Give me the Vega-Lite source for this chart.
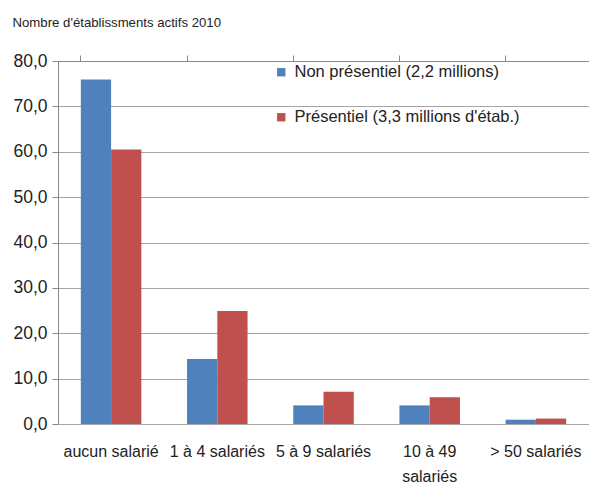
{
  "$schema": "https://vega.github.io/schema/vega-lite/v6.json",
  "width": 531,
  "height": 363,
  "autosize": {"type": "none"},
  "padding": {"left": 58, "top": 61, "right": 0, "bottom": 59},
  "background": "white",
  "config": {
    "view": {"stroke": null},
    "font": "Liberation Sans"
  },
  "data": {
    "values": [
      {"cat": "aucun salarié", "serie": "Non présentiel (2,2 millions)", "v": 75.9},
      {"cat": "aucun salarié", "serie": "Présentiel (3,3 millions d'étab.)", "v": 60.5},
      {"cat": "1 à 4 salariés", "serie": "Non présentiel (2,2 millions)", "v": 14.3},
      {"cat": "1 à 4 salariés", "serie": "Présentiel (3,3 millions d'étab.)", "v": 24.9},
      {"cat": "5 à 9 salariés", "serie": "Non présentiel (2,2 millions)", "v": 4.1},
      {"cat": "5 à 9 salariés", "serie": "Présentiel (3,3 millions d'étab.)", "v": 7.1},
      {"cat": "10 à 49 salariés", "serie": "Non présentiel (2,2 millions)", "v": 4.1},
      {"cat": "10 à 49 salariés", "serie": "Présentiel (3,3 millions d'étab.)", "v": 5.9},
      {"cat": "> 50 salariés", "serie": "Non présentiel (2,2 millions)", "v": 0.95},
      {"cat": "> 50 salariés", "serie": "Présentiel (3,3 millions d'étab.)", "v": 1.2}
    ]
  },
  "layer": [
    {
      "mark": {"type": "bar"},
      "encoding": {
        "x": {
          "field": "cat", "type": "nominal",
          "sort": ["aucun salarié", "1 à 4 salariés", "5 à 9 salariés", "10 à 49 salariés", "> 50 salariés"],
          "scale": {"paddingInner": 0.43, "paddingOuter": 0.215},
          "axis": {
            "title": null, "labelAngle": 0, "ticks": false, "domain": false,
            "labelFontSize": 16, "labelColor": "#222222", "labelPadding": 19,
            "labelExpr": "datum.label == '10 à 49 salariés' ? ['10 à 49', 'salariés'] : datum.label",
            "labelLineHeight": 25
          }
        },
        "xOffset": {
          "field": "serie", "type": "nominal",
          "sort": ["Non présentiel (2,2 millions)", "Présentiel (3,3 millions d'étab.)"],
          "scale": {"paddingInner": 0, "paddingOuter": 0}
        },
        "y": {
          "field": "v", "type": "quantitative",
          "scale": {"domain": [0, 80], "nice": false},
          "axis": {
            "title": "Nombre d'établissments actifs 2010",
            "titleAngle": 0, "titleAlign": "left", "titleBaseline": "alphabetic",
            "titleX": -46, "titleY": -35,
            "titleFont": "Liberation Sans", "titleFontSize": 13.2, "titleFontWeight": "normal",
            "titleColor": "#222222",
            "values": [0, 10, 20, 30, 40, 50, 60, 70, 80],
            "labelExpr": "replace(format(datum.value, '.1f'), '.', ',')",
            "labelFontSize": 17.5, "labelColor": "#222222", "labelPadding": 5,
            "tickSize": 6, "tickColor": "#888888", "domainColor": "#888888",
            "gridColor": "#A6A6A6", "grid": true
          }
        },
        "color": {
          "field": "serie", "type": "nominal",
          "sort": ["Non présentiel (2,2 millions)", "Présentiel (3,3 millions d'étab.)"],
          "scale": {"range": ["#4F81BD", "#C0504D"]},
          "legend": {
            "title": null, "orient": "none", "legendX": 215, "legendY": 3,
            "symbolType": "square", "symbolSize": 70, "symbolStrokeWidth": 0,
            "labelFontSize": 16.5, "labelColor": "#222222", "rowPadding": 28,
            "labelLimit": 400, "labelOffset": 5
          }
        }
      }
    },
    {
      "mark": {"type": "bar", "opacity": 0},
      "encoding": {
        "x": {
          "field": "cat", "type": "nominal",
          "sort": ["aucun salarié", "1 à 4 salariés", "5 à 9 salariés", "10 à 49 salariés", "> 50 salariés"],
          "axis": {
            "title": null, "labels": false, "ticks": true, "bandPosition": 0,
            "tickSize": 6, "tickColor": "#888888", "domainColor": "#888888", "domain": true
          }
        },
        "y": {"field": "v", "type": "quantitative"}
      }
    }
  ],
  "resolve": {"axis": {"x": "independent"}}
}
